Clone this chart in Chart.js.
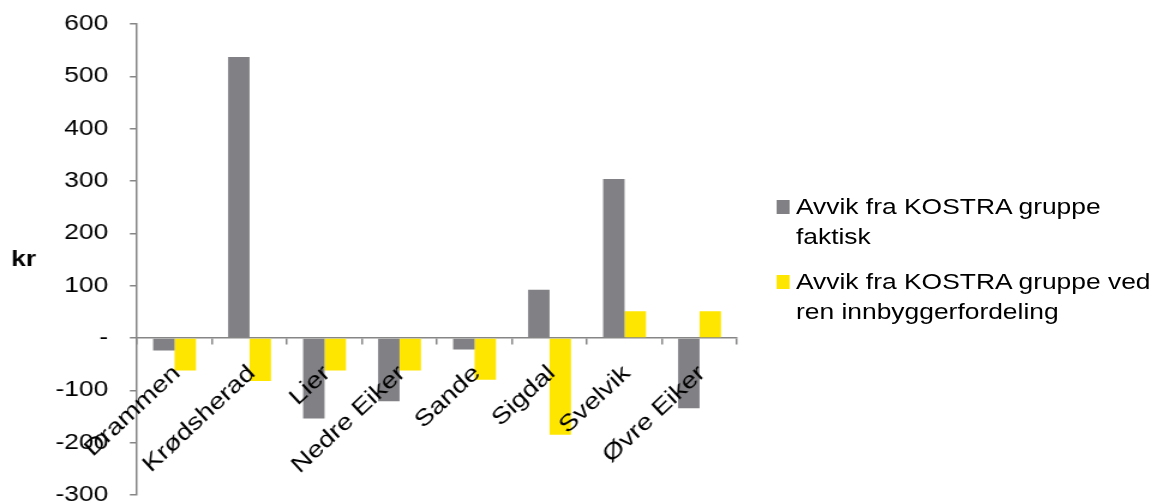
<!DOCTYPE html>
<html lang="no">
<head>
<meta charset="utf-8">
<title>Avvik fra KOSTRA gruppe</title>
<script src="https://cdn.jsdelivr.net/npm/chart.js@4/dist/chart.umd.min.js"></script>
<style>
  html, body { margin: 0; padding: 0; background: #fff; overflow: hidden; }
  /* the drawing is laid out on a narrower board and widened to the page */
  #board {
    position: absolute; left: 0; top: 0;
    width: 965px; height: 504px;
    transform: scaleX(1.2); transform-origin: 0 0;
  }
  #chart { position: absolute; left: 0; top: 0; width: 965px; height: 504px; }
  #legend {
    position: absolute; left: 646.7px; top: 192.4px; width: 318px;
    font-family: "Liberation Sans", Arial, sans-serif; font-size: 22px;
    line-height: 30px; color: #000;
  }
  .item { position: relative; padding-left: 16.6px; margin-bottom: 15px; width: 302px; }
  .swatch { position: absolute; left: 0; top: 7.6px; width: 11.7px; height: 14px; }
</style>
</head>
<body>
<div id="board">
  <canvas id="chart" width="965" height="504"></canvas>
  <div id="legend"></div>
</div>
<script>
// Municipalities on the category axis
const categories = ['Drammen', 'Krødsherad', 'Lier', 'Nedre Eiker', 'Sande', 'Sigdal', 'Svelvik', 'Øvre Eiker'];
// Deviation from the KOSTRA group, kr
const faktisk = [-24, 537, -154, -121, -22, 92, 304, -134];
const innbyggerfordeling = [-62, -82, -62, -62, -80, -185, 51, 51];
const seriesNames = ['Avvik fra KOSTRA gruppe faktisk', 'Avvik fra KOSTRA gruppe ved ren innbyggerfordeling'];
const seriesColors = ['#808085', '#FFE600'];
// Value axis
const yMin = -300, yMax = 600, yStep = 100;
const zeroLabel = '-';
const yTitle = 'kr';

const FONT = '"Liberation Sans", Arial, sans-serif';
const AXIS = '#868686';
const WIDEN = 1.2;

// Category names slanted just under the zero line
const categoryLabels = {
  id: 'categoryLabels',
  afterDatasetsDraw(chart) {
    const ctx = chart.ctx;
    const x = chart.scales.x, y = chart.scales.y;
    const y0 = y.getPixelForValue(0);
    ctx.save();
    ctx.font = '23px ' + FONT;
    ctx.fillStyle = '#000';
    ctx.textAlign = 'right';
    ctx.textBaseline = 'middle';
    categories.forEach((name, i) => {
      ctx.save();
      ctx.translate(x.getPixelForValue(i) + 2, y0 + 32);
      ctx.scale(1 / WIDEN, 1);
      ctx.rotate(-43 * Math.PI / 180);
      ctx.scale(WIDEN, 1);
      ctx.fillText(name, 0, 0);
      ctx.restore();
    });
    ctx.restore();
  }
};

// Horizontal unit title left of the value axis
const unitTitle = {
  id: 'unitTitle',
  afterDraw(chart) {
    const ctx = chart.ctx;
    const area = chart.chartArea;
    ctx.save();
    ctx.font = 'bold 22px ' + FONT;
    ctx.fillStyle = '#000';
    ctx.textAlign = 'center';
    ctx.textBaseline = 'middle';
    ctx.fillText(yTitle, 19.6, (area.top + area.bottom) / 2);
    ctx.restore();
  }
};

const chart = new Chart(document.getElementById('chart'), {
  type: 'bar',
  data: {
    labels: categories,
    datasets: [
      { label: seriesNames[0], data: faktisk, backgroundColor: seriesColors[0] },
      { label: seriesNames[1], data: innbyggerfordeling, backgroundColor: seriesColors[1] }
    ]
  },
  options: {
    responsive: false,
    animation: false,
    devicePixelRatio: 1,
    layout: { padding: { left: 0, right: 350.8, top: 24, bottom: 9 } },
    datasets: { bar: { categoryPercentage: 2 / 3.5, barPercentage: 1, borderWidth: 0 } },
    plugins: { legend: { display: false }, tooltip: { enabled: false } },
    scales: {
      x: {
        type: 'category',
        position: { y: 0 },
        offset: true,
        ticks: { display: false },
        grid: { display: true, offset: true, drawOnChartArea: false, drawTicks: true, tickLength: 6, color: AXIS, lineWidth: 1.5 },
        border: { display: true, color: AXIS, width: 1.5 }
      },
      y: {
        position: 'left',
        min: yMin, max: yMax,
        afterFit(scale) {
          // plot area spans the full height between the outer paddings
          scale.width = 114.2;
          scale.paddingTop = 0;
          scale.paddingBottom = 0;
        },
        ticks: {
          stepSize: yStep,
          padding: 18,
          color: '#000',
          font: { family: FONT, size: 22, lineHeight: 0.8 },
          callback: v => (v === 0 ? zeroLabel : String(v))
        },
        grid: { display: true, drawOnChartArea: false, drawTicks: true, tickLength: 6, color: AXIS, lineWidth: 1.5 },
        border: { display: true, color: AXIS, width: 1.5 }
      }
    }
  },
  plugins: [categoryLabels, unitTitle]
});

// Legend entries built from the datasets
const legend = document.getElementById('legend');
chart.data.datasets.forEach(ds => {
  const item = document.createElement('div');
  item.className = 'item';
  const sw = document.createElement('span');
  sw.className = 'swatch';
  sw.style.background = ds.backgroundColor;
  item.appendChild(sw);
  item.appendChild(document.createTextNode(ds.label));
  legend.appendChild(item);
});
</script>
</body>
</html>
